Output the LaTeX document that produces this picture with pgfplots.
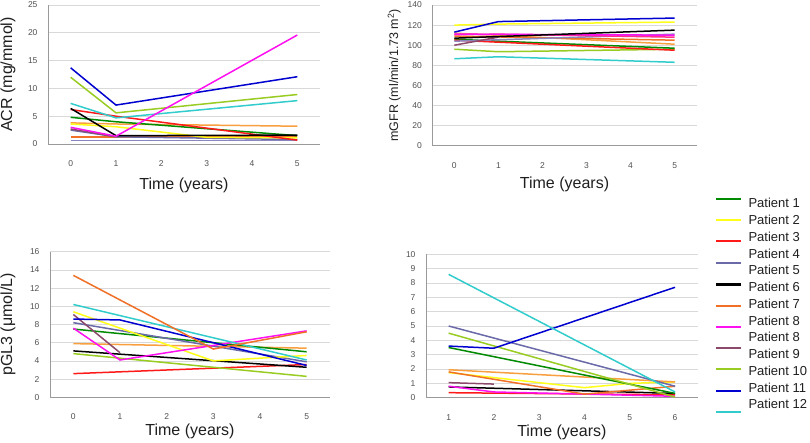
\documentclass[border=0pt]{standalone}
\usepackage{fontspec}
\setmainfont{Liberation Sans}
\usepackage{pgfplots}
\pgfplotsset{compat=1.18}

\definecolor{cGreen}{HTML}{008A00}
\definecolor{cYellow}{HTML}{FFFF1A}
\definecolor{cRed}{HTML}{FF1A1A}
\definecolor{cSlate}{HTML}{6A6AA8}
\definecolor{cLav}{HTML}{8A86C0}
\definecolor{cOrange}{HTML}{F07028}
\definecolor{cLOrange}{HTML}{F8A040}
\definecolor{cMagenta}{HTML}{FF10F0}
\definecolor{cPink}{HTML}{FF3388}
\definecolor{cPurple}{HTML}{8B4A6B}
\definecolor{cYG}{HTML}{99CC22}
\definecolor{cBlue}{HTML}{0000D0}
\definecolor{cCyan}{HTML}{33CCCC}
\definecolor{gridgray}{HTML}{D9D9D9}
\definecolor{axgray}{HTML}{9A9A9A}
\definecolor{tickgray}{HTML}{505050}

\pgfplotsset{
  panel/.style={
    scale only axis,
    axis x line=bottom, axis y line=left,
    axis line style={draw=axgray, line width=0.8pt, -},
    ymajorgrids, grid style={gridgray, line width=0.8pt},
    major tick length=0pt,
    /pgf/number format/assume math mode=true,
    tick label style={font=\fontsize{8.5}{10}\selectfont, text=tickgray},
    xticklabel style={yshift=-13pt},
    yticklabel style={xshift=-7pt},
    label style={font=\fontsize{16}{18}\selectfont, text=black!88},
    xlabel={Time (years)},
    every axis plot/.append style={line width=1.5pt, no markers},
  },
}

\begin{document}
\begin{tikzpicture}
\useasboundingbox (0,0) rectangle (810pt,-443pt);

% ACR
\begin{axis}[panel, at={(48pt,-144pt)}, anchor=south west,
  width=272pt, height=139pt,
  xmin=-0.5, xmax=5.5, ymin=0, ymax=25,
  xtick={0,...,5}, ytick={0,5,...,25},
  ylabel={ACR (mg/mmol)},
  xlabel style={at={(axis description cs:0.5,0)}, anchor=center, yshift=-41pt},
  ylabel style={at={(axis description cs:0,0.5)}, anchor=center, yshift=40pt}]
\addplot[cLav] coordinates {(0,0.6) (5,0.6)};
\addplot[cOrange] coordinates {(0,1.3) (5,1.3)};
\addplot[cSlate] coordinates {(0,2.5) (1,1.3) (5,0.8)};
\addplot[cPurple] coordinates {(0,2.7) (1,1.3)};
\addplot[cLOrange] coordinates {(0,3.8) (1,3.6) (5,3.2)};
\addplot[cYellow] coordinates {(0,3.6) (1,3.1) (3,1.2) (5,1.1)};
\addplot[cGreen] coordinates {(0,4.8) (1,4.0) (5,1.5)};
\addplot[cRed] coordinates {(0,6.2) (1,5.0) (5,0.7)};
\addplot[black] coordinates {(0,6.4) (1,1.5) (5,1.6)};
\addplot[cCyan] coordinates {(0,7.3) (1,4.7) (5,7.8)};
\addplot[cYG] coordinates {(0,12.0) (1,5.6) (5,8.9)};
\addplot[cBlue] coordinates {(0,13.7) (1,7.0) (5,12.1)};
\addplot[cMagenta] coordinates {(0,3.0) (1,1.4) (5,19.6)};
\end{axis}

% mGFR
\begin{axis}[panel, at={(432.3pt,-145.7pt)}, anchor=south west,
  width=264.4pt, height=140.7pt,
  xmin=-0.5, xmax=5.5, ymin=0, ymax=140,
  xtick={0,...,5}, ytick={0,20,...,140},
  ylabel={mGFR (ml/min/1.73 m\textsuperscript{2})},
  xlabel style={at={(axis description cs:0.5,0)}, anchor=center, yshift=-39pt},
  ylabel style={at={(axis description cs:0,0.5)}, anchor=center, yshift=38pt,
    font=\fontsize{12.5}{14}\selectfont}]
\addplot[cCyan] coordinates {(0,86.5) (1,88.5) (5,83)};
\addplot[cYG] coordinates {(0,96) (1,93.5) (5,96)};
\addplot[cGreen] coordinates {(0,106) (1,104) (5,97)};
\addplot[cRed] coordinates {(0,105) (1,103) (5,95)};
\addplot[cLOrange] coordinates {(0,112) (5,101)};
\addplot[cOrange] coordinates {(0,109) (5,105)};
\addplot[cLav] coordinates {(0,104) (5,111)};
\addplot[cPurple] coordinates {(0,100) (1,108)};
\addplot[cPink] coordinates {(0,110.5) (1,111) (5,108)};
\addplot[cMagenta] coordinates {(0,111) (5,110)};
\addplot[black] coordinates {(0,107) (5,115)};
\addplot[cYellow] coordinates {(0,120) (1,121) (5,123)};
\addplot[cBlue] coordinates {(0,113) (1,123.5) (5,127)};
\end{axis}

% pGL3
\begin{axis}[panel, at={(50pt,-397.3pt)}, anchor=south west,
  width=280pt, height=145.6pt,
  xmin=-0.5, xmax=5.5, ymin=0, ymax=16,
  xtick={0,...,5}, ytick={0,2,...,16},
  ylabel={pGL3 (μmol/L)},
  xlabel style={at={(axis description cs:0.5,0)}, anchor=center, yshift=-34pt},
  ylabel style={at={(axis description cs:0,0.5)}, anchor=center, yshift=42pt}]
\addplot[cRed] coordinates {(0,2.6) (5,3.6)};
\addplot[cYG] coordinates {(0,4.8) (5,2.3)};
\addplot[black] coordinates {(0,5.1) (5,3.3)};
\addplot[cLOrange] coordinates {(0,5.9) (5,5.4)};
\addplot[cGreen] coordinates {(0,7.5) (5,5.0)};
\addplot[cSlate] coordinates {(0,8.2) (5,3.9)};
\addplot[cYellow] coordinates {(0,9.4) (1,7.6) (3,4.0) (4,4.3) (5,4.6)};
\addplot[cPurple] coordinates {(0,9.1) (1,4.9)};
\addplot[cMagenta] coordinates {(0,7.6) (1,4.1) (5,7.3)};
\addplot[cBlue] coordinates {(0,8.6) (1,8.5) (5,3.5)};
\addplot[cCyan] coordinates {(0,10.2) (5,4.1)};
\addplot[cOrange] coordinates {(0,13.4) (3,5.3) (5,7.2)};
\end{axis}

% uGL3
\begin{axis}[panel, at={(426pt,-397.7pt)}, anchor=south west,
  width=271.7pt, height=143.4pt,
  xmin=0.5, xmax=6.5, ymin=0, ymax=10,
  xtick={1,...,6}, ytick={0,1,...,10},
  xlabel style={at={(axis description cs:0.5,0)}, anchor=center, yshift=-35pt}]
\addplot[cRed] coordinates {(1,0.35) (6,0.2)};
\addplot[black] coordinates {(1,0.75) (6,0.3)};
\addplot[cMagenta] coordinates {(1,0.8) (2,0.4) (6,0.1)};
\addplot[cPurple] coordinates {(1,1.05) (2,0.95)};
\addplot[cYellow] coordinates {(1,1.75) (4,0.7) (5,1.0) (6,1.1)};
\addplot[cOrange] coordinates {(1,1.8) (4,0.25) (6,0.8)};
\addplot[cLOrange] coordinates {(1,1.95) (6,1.1)};
\addplot[cGreen] coordinates {(1,3.5) (6,0.3)};
\addplot[cYG] coordinates {(1,4.5) (6,0.05)};
\addplot[cSlate] coordinates {(1,5.0) (6,0.8)};
\addplot[cBlue] coordinates {(1,3.6) (2,3.45) (6,7.7)};
\addplot[cCyan] coordinates {(1,8.6) (6,0.4)};
\end{axis}

% legend (sample lines and labels are offset in the original)
\begin{scope}[line width=2pt]
\draw[draw=cGreen]   (716pt,-199.5pt) -- (741pt,-199.5pt);
\draw[draw=cYellow]  (716pt,-220.5pt) -- (741pt,-220.5pt);
\draw[draw=cRed]     (716pt,-241.5pt) -- (741pt,-241.5pt);
\draw[draw=cSlate]   (716pt,-263.5pt) -- (741pt,-263.5pt);
\draw[draw=black]    (716pt,-284.5pt) -- (741pt,-284.5pt);
\draw[draw=cOrange]  (716pt,-305.5pt) -- (741pt,-305.5pt);
\draw[draw=cMagenta] (716pt,-326.5pt) -- (741pt,-326.5pt);
\draw[draw=cPurple]  (716pt,-347.5pt) -- (741pt,-347.5pt);
\draw[draw=cYG]      (716pt,-368.5pt) -- (741pt,-368.5pt);
\draw[draw=cBlue]    (716pt,-390.5pt) -- (741pt,-390.5pt);
\draw[draw=cCyan]    (716pt,-411.5pt) -- (741pt,-411.5pt);
\end{scope}
\foreach \t [count=\i from 0] in {Patient 1,Patient 2,Patient 3,Patient 4,Patient 5,Patient 6,Patient 7,Patient 8,Patient 8,Patient 9,Patient 10,Patient 11,Patient 12}
  \node[anchor=west, inner sep=0pt, font=\fontsize{13}{15}\selectfont, text=black!88] at (748.3pt,{-203.3pt-16.75pt*\i}) {\t};
\end{tikzpicture}
\end{document}
